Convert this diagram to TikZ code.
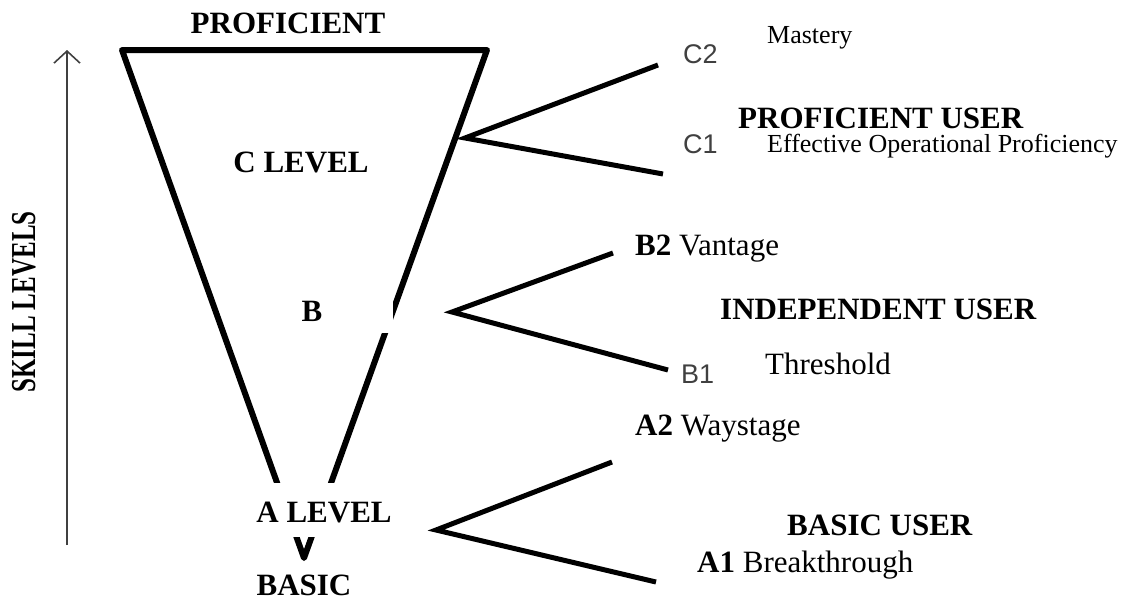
\documentclass[tikz,border=0pt]{standalone}
\usepackage{fontspec}
\setmainfont{Liberation Serif}
\newfontfamily\labfont{Liberation Sans}
\usetikzlibrary{arrows.meta}
\definecolor{labgray}{HTML}{404040}
\tikzset{
  lvltext/.style={inner sep=0pt, anchor=base, font=\fontsize{31}{31}\selectfont\bfseries},
  usertext/.style={inner sep=0pt, anchor=base west, font=\fontsize{31}{31}\selectfont},
  desctext/.style={inner sep=0pt, anchor=base west, font=\fontsize{26}{26}\selectfont},
  codetext/.style={inner sep=0pt, anchor=base west, text=labgray, font=\fontsize{27}{27}\selectfont\labfont},
  funnel/.style={line width=6pt, line join=round, line cap=round},
  bracket/.style={line width=5pt, line join=miter},
  skillarrow/.style={draw=labgray, line width=1.6pt, -{Straight Barb[length=12pt,width=26pt,line width=1.6pt]}},
}
\begin{document}
\begin{tikzpicture}[x=1pt,y=-1pt]
\useasboundingbox (0,0) rectangle (1131,600);

% the funnel
\coordinate (tl) at (122,50);
\coordinate (tr) at (487,50);
\coordinate (tip) at (304,558);
\draw[funnel] (tip) -- (tl) -- (tr) -- cycle;
\fill[white] (240,262) rectangle (393,333);
\fill[white] (240,483) rectangle (410,537);

% skill axis
\coordinate (abot) at (67,545);
\coordinate (atop) at (67,50);
\draw[skillarrow] (abot) -- (atop);
\node[lvltext, rotate=90, font=\fontsize{25}{25}\selectfont\bfseries] (skill) at (35,302) {\scalebox{1}[1.4]{SKILL LEVELS}};

% level names
\node[lvltext] (prof) at (288,33) {PROFICIENT};
\node[lvltext] (clev) at (301,172) {C LEVEL};
\node[lvltext] (blev) at (312,321) {B};
\node[lvltext] (alev) at (324,522) {A LEVEL};
\node[lvltext] (basic) at (304,595) {BASIC};

% brackets
\coordinate (capex) at (465,138);
\coordinate (ctop) at (658,65);
\coordinate (cbot) at (663,174);
\coordinate (bapex) at (452,312);
\coordinate (btop) at (613,253);
\coordinate (bbot) at (668,370);
\coordinate (aapex) at (436,530);
\coordinate (atopb) at (612,462);
\coordinate (abotb) at (656,582);
\draw[bracket] (ctop) -- (capex) -- (cbot);
\draw[bracket] (btop) -- (bapex) -- (bbot);
\draw[bracket] (atopb) -- (aapex) -- (abotb);

% C
\node[codetext] (c2) at (683,63) {C2};
\node[desctext] (mastery) at (767,43) {Mastery};
\node[usertext] (profuser) at (738,128) {\bfseries PROFICIENT USER};
\node[codetext] (c1) at (683,153) {C1};
\node[desctext] (eop) at (767,152) {Effective Operational Proficiency};

% B
\node[usertext] (b2) at (635,255) {\textbf{B2} Vantage};
\node[usertext] (induser) at (720,319) {\bfseries INDEPENDENT USER};
\node[codetext] (b1) at (681,383) {B1};
\node[usertext] (thresh) at (765,374) {Threshold};

% A
\node[usertext] (a2) at (635,435) {\textbf{A2} Waystage};
\node[usertext] (basuser) at (787,535) {\bfseries BASIC USER};
\node[usertext] (a1) at (697,572) {\textbf{A1} Breakthrough};
\end{tikzpicture}
\end{document}
